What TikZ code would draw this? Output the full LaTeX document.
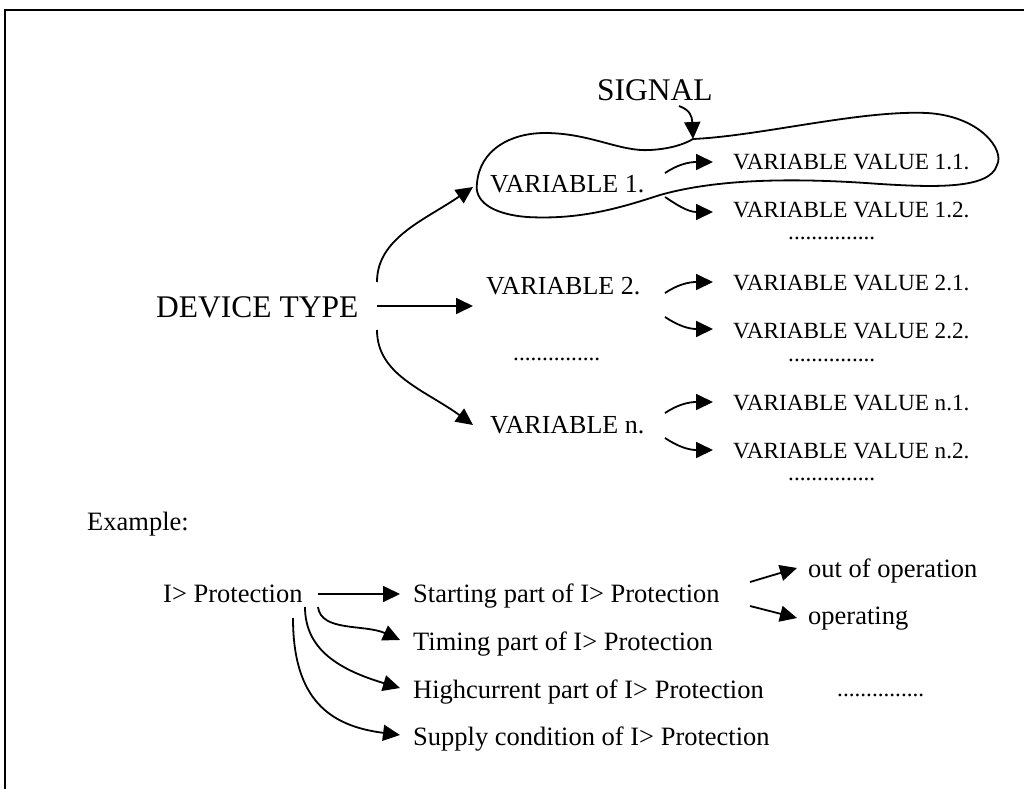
\documentclass[tikz,border=0pt]{standalone}
\usepackage{fontspec}
\setmainfont{Liberation Serif}
\usetikzlibrary{arrows.meta}
\begin{document}
\begin{tikzpicture}[x=1pt,y=-1pt,
  lbl/.style={inner sep=0pt,anchor=base west},
  big/.style={lbl,font=\fontsize{31.5}{36}\selectfont},
  mid/.style={lbl,font=\fontsize{26}{30}\selectfont},
  small/.style={lbl,font=\fontsize{23.2}{27}\selectfont},
  ex/.style={lbl,font=\fontsize{26.5}{30}\selectfont},
  conn/.style={line width=1.8pt,-{Triangle[length=17pt,width=16pt]}},
  plain/.style={line width=1.8pt}]
\useasboundingbox (0,0) rectangle (1024,789);
% frame
\coordinate (fbl) at (5,789);
\coordinate (ftl) at (5,10);
\coordinate (ftr) at (1024,10);
\draw[plain] (fbl) -- (ftl) -- (ftr);

% texts
\node[big] (dev) at (156,317) {DEVICE TYPE};
\node[big] (sig) at (597,100) {SIGNAL};
\node[mid] (v1) at (490,192) {VARIABLE 1.};
\node[mid] (v2) at (486,294) {VARIABLE 2.};
\node[mid] (vn) at (490,433) {VARIABLE n.};
\node[small] (vd) at (513,360) {...............};
\node[small] (v11) at (733,169) {VARIABLE VALUE 1.1.};
\node[small] (v12) at (733,217) {VARIABLE VALUE 1.2.};
\node[small] (v1d) at (788,239) {...............};
\node[small] (v21) at (733,290) {VARIABLE VALUE 2.1.};
\node[small] (v22) at (733,338) {VARIABLE VALUE 2.2.};
\node[small] (v2d) at (788,361) {...............};
\node[small] (vn1) at (733,410) {VARIABLE VALUE n.1.};
\node[small] (vn2) at (733,458) {VARIABLE VALUE n.2.};
\node[small] (vnd) at (788,480) {...............};

\node[ex] (exa) at (87,530) {Example:};
\node[ex] (prot) at (163,602) {I> Protection};
\node[ex] (p1) at (413,602) {Starting part of I> Protection};
\node[ex] (p2) at (413,650) {Timing part of I> Protection};
\node[ex] (p3) at (413,698) {Highcurrent part of I> Protection};
\node[ex] (p4) at (413,745) {Supply condition of I> Protection};
\node[ex] (o1) at (808,577) {out of operation};
\node[ex] (o2) at (808,624) {operating};
\node[small] (od) at (837,696) {...............};

% device type connectors
\coordinate (dU) at (377,282);
\coordinate (dM) at (377,306);
\coordinate (dL) at (377,330);
\coordinate (t1) at (473,187);
\coordinate (t2) at (473,306);
\coordinate (tn) at (473,425);
\draw[conn] (dU) .. controls (377,238) and (425,220) .. (t1);
\draw[conn] (dM) -- (t2);
\draw[conn] (dL) .. controls (377,375) and (425,390) .. (tn);

% signal loop
\coordinate (sT) at (693,139);
\draw[plain,line join=round] (sT)
  .. controls (760,136) and (860,110) .. (927,113)
  .. controls (980,116) and (1005,150) .. (997,165)
  .. controls (990,190) and (930,187) .. (880,184)
  .. controls (800,178) and (720,178) .. (660,195)
  .. controls (620,208) and (580,220) .. (527,217)
  .. controls (490,214) and (474,200) .. (477,183)
  .. controls (480,150) and (510,133) .. (545,133)
  .. controls (590,133) and (620,152) .. (650,150)
  .. controls (670,149) and (685,144) .. (sT);
\coordinate (sS) at (679,106);
\draw[conn] (sS) .. controls (690,110) and (692,116) .. (sT);

% value connectors
\foreach \g/\a/\b/\c/\d in {1/173/162/197/212, 2/293/282/317/329, n/413/402/438/450}{
  \coordinate (u\g s) at (665,\a);
  \coordinate (u\g t) at (713,\b);
  \coordinate (l\g s) at (665,\c);
  \coordinate (l\g t) at (713,\d);
  \draw[conn] (u\g s) .. controls (677,\a-8) and (688,\b) .. (u\g t);
  \draw[conn] (l\g s) .. controls (677,\c+8) and (688,\d) .. (l\g t);
}

% example connectors
\coordinate (e1s) at (318,594);
\coordinate (e1t) at (400,594);
\coordinate (e2s) at (318,607);
\coordinate (e2t) at (400,640);
\coordinate (e3s) at (305,607);
\coordinate (e3t) at (400,688);
\coordinate (e4s) at (293,618);
\coordinate (e4t) at (400,735);
\draw[conn] (e1s) -- (e1t);
\draw[conn] (e2s) .. controls (321,632) and (365,624) .. (e2t);
\draw[conn] (e3s) .. controls (305,650) and (340,670) .. (e3t);
\draw[conn] (e4s) .. controls (293,700) and (330,726) .. (e4t);

\coordinate (s1s) at (750,582);
\coordinate (s1t) at (797,568);
\coordinate (s2s) at (750,606);
\coordinate (s2t) at (797,618);
\draw[conn] (s1s) -- (s1t);
\draw[conn] (s2s) -- (s2t);
\end{tikzpicture}
\end{document}
